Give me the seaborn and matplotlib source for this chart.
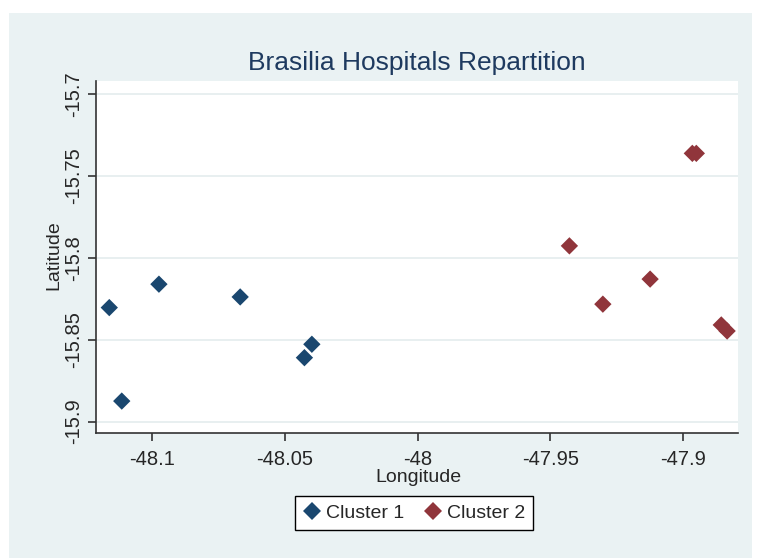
import pandas as pd
import numpy as np
import matplotlib.pyplot as plt
from matplotlib.patches import Rectangle
import seaborn as sns

# hospital coordinates
cluster1_lon = [-48.1161, -48.1114, -48.0974, -48.0668, -48.0426, -48.0398]
cluster1_lat = [-15.8304, -15.8875, -15.8161, -15.8239, -15.8610, -15.8528]
cluster2_lon = [-47.9428, -47.9302, -47.9124, -47.8965, -47.8950, -47.8856, -47.8834]
cluster2_lat = [-15.7927, -15.8283, -15.8130, -15.7362, -15.7362, -15.8410, -15.8447]

xticks = [-48.1, -48.05, -48, -47.95, -47.9]
xtick_labels = ["-48.1", "-48.05", "-48", "-47.95", "-47.9"]
yticks = [-15.7, -15.75, -15.8, -15.85, -15.9]
ytick_labels = ["-15.7", "-15.75", "-15.8", "-15.85", "-15.9"]

df = pd.DataFrame({
    "Longitude": cluster1_lon + cluster2_lon,
    "Latitude": cluster1_lat + cluster2_lat,
    "Cluster": ["Cluster 1"] * len(cluster1_lon) + ["Cluster 2"] * len(cluster2_lon),
})

sns.set_style("ticks")
plt.rcParams["font.family"] = ["Liberation Sans", "DejaVu Sans"]

bg = "#EAF2F3"
dark = "#333333"

fig = plt.figure(figsize=(7.61, 5.58), dpi=100)
fig.add_artist(Rectangle((9 / 761, 0), 743 / 761, 545 / 558, transform=fig.transFigure,
                         facecolor=bg, edgecolor="none", zorder=-1))
ax = fig.add_axes([96 / 761, 1 - 433 / 558, 642 / 761, 352 / 558])
ax.set_facecolor("white")

sns.scatterplot(data=df, x="Longitude", y="Latitude", hue="Cluster",
                palette=["#1A476F", "#90353B"], marker="D", s=78, linewidth=0, ax=ax)

ax.set_xlim(-48.1211, -47.8793)
ax.set_ylim(-15.907, -15.692)
ax.set_xticks(xticks)
ax.set_xticklabels(xtick_labels)
ax.set_yticks(yticks)
ax.set_yticklabels(ytick_labels, rotation=90, va="center")

ax.yaxis.grid(True, color="#E4ECEE", lw=1.2)
ax.xaxis.grid(False)
ax.set_axisbelow(True)

for side in ["top", "right"]:
    ax.spines[side].set_visible(False)
for side in ["left", "bottom"]:
    ax.spines[side].set_color(dark)
    ax.spines[side].set_linewidth(1.2)

ax.tick_params(direction="out", length=6, width=1.2, color=dark, labelsize=14.5, pad=6)
ax.tick_params(axis="y", pad=3)

ax.set_xlabel("Longitude", fontsize=14)
ax.set_ylabel("Latitude", fontsize=14, va="center")
ax.xaxis.set_label_coords(0.5016, -0.101)
ax.yaxis.set_label_coords(-0.066, 0.506)

ax.set_title("Brasilia Hospitals Repartition", fontsize=19, color="#1E3A5F", pad=8)

handles, labels = ax.get_legend_handles_labels()
ax.get_legend().remove()
fig.legend(handles, labels, loc="center", bbox_to_anchor=(414 / 761, 1 - 513 / 558),
           ncol=2, fontsize=14, frameon=True, fancybox=False, edgecolor="black",
           facecolor="white", framealpha=1, handletextpad=0.2, columnspacing=1.0,
           borderpad=0.4, handlelength=1.0)

fig.savefig("out.png", dpi=100)
